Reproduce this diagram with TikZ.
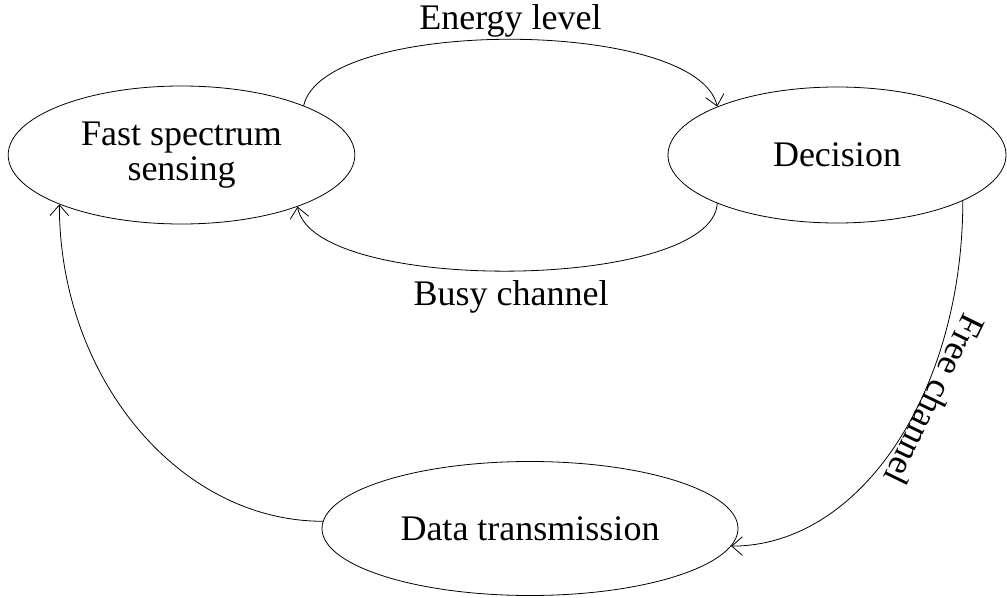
\documentclass[tikz,border=0pt]{standalone}
\usepackage{fontspec}
\setmainfont{Liberation Serif}
\usetikzlibrary{arrows.meta,shapes.geometric}

\begin{document}
\begin{tikzpicture}[line cap=round,line join=round,>={Straight Barb[length=8pt,width=14pt]},x=0.75pt,y=0.75pt,
  state/.style={draw,ellipse,line width=0.6pt,inner sep=0pt,align=center,font=\fontsize{27}{26.5}\selectfont},
  link/.style={->,line width=0.6pt},
  lbl/.style={font=\fontsize{27}{30}\selectfont}]
\useasboundingbox (0,0) rectangle (1007,597);
\node[state,minimum width=260pt,minimum height=103.5pt] (fss) at (181.5,442) {Fast spectrum\\sensing};
\node[state,minimum width=253.5pt,minimum height=102pt] (dec) at (837,442) {Decision};
\node[state,minimum width=312pt,minimum height=100.5pt] (dat) at (530,68.5) {Data transmission};
% upper and lower loop
\draw [link] (fss.22) .. controls +(20,89) and +(-20,89) .. (dec.158) node[lbl,midway,above,inner sep=1pt] (lblenergy) {Energy level};
\draw [link] (dec.202) .. controls +(-5,-88) and +(15,-88) .. (fss.336) node[lbl,midway,below,inner sep=7pt] (lblbusy) {Busy channel};
% outer path
\draw [link] (dec.-20) .. controls +(0,-190) and +(130,0) .. (dat.-5);
\node[lbl,rotate=-116] (lblfree) at (935,197) {Free channel};
\draw [link] (dat.178) .. controls +(-144,0) and +(0,-173) .. (fss.202);
\end{tikzpicture}
\end{document}
